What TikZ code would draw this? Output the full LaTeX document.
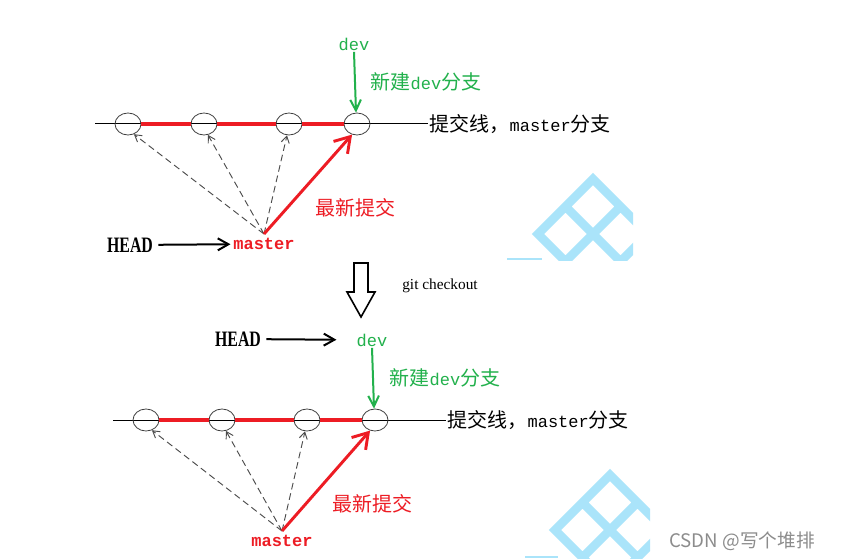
\documentclass[tikz,border=0pt]{standalone}
\usepackage{fontspec}
\setmonofont{Liberation Mono}[Scale=0.85]
\newfontfamily\cjk{Noto Sans CJK SC}
\newfontfamily\headfont{Liberation Serif}
\usetikzlibrary{arrows.meta,positioning,shapes.geometric}
\definecolor{gitred}{HTML}{ED1C24}
\definecolor{gitgreen}{HTML}{22B14C}
\definecolor{wmblue}{HTML}{AAE4FA}

\begin{document}
\begin{tikzpicture}[x=0.75pt, y=-0.75pt,
      commit/.style={ellipse, draw=black!75, line width=0.6pt, minimum width=19.5pt,
                     minimum height=16.5pt, inner sep=0pt},
      tag/.style={font=\fontsize{15pt}{18pt}\selectfont, inner sep=1pt},
      headtag/.style={inner sep=1pt},
      trunk/.style={gitred, line width=2.3pt},
      guess/.style={-{Straight Barb[length=5pt,width=6pt]}, black!70, line width=0.7pt,
                    dash pattern=on 5pt off 3pt},
      latest/.style={-{Straight Barb[length=11pt,width=14pt]}, gitred, line width=2.2pt},
      newbranch/.style={-{Straight Barb[length=8pt,width=8pt]}, gitgreen, line width=1.5pt},
      pointer/.style={-{Straight Barb[length=8pt,width=9pt]}, line width=1.5pt},
      wm/.style={draw=wmblue, line width=6.5pt, line join=miter}
    ]
      \fill[white] (0,0) rectangle (841,559);
      \useasboundingbox (0,0) rectangle (841,559);

      % watermark
      \begin{scope}
        \clip (500,170) rectangle (633,261);
        \draw[wm] (593,179) -- ++(55,55) -- ++(-55,55) -- ++(-55,-55) -- cycle
                  (620.5,206.5) -- ++(-55,55) (565.5,206.5) -- ++(55,55);
      \end{scope}
      \draw[wmblue, line width=1.5pt] (507,259) -- (542,259);
      \begin{scope}
        \clip (500,460) rectangle (650,559);
        \draw[wm] (610,475) -- ++(55,55) -- ++(-55,55) -- ++(-55,-55) -- cycle
                  (637.5,502.5) -- ++(-55,55) (582.5,502.5) -- ++(55,55);
      \end{scope}
      \draw[wmblue, line width=1.5pt] (525,557) -- (558,557);

      % before checkout
      \coordinate (astart) at (95,124);
      \node[tag, anchor=west] (aline) at (428,124) {{\cjk 提交线，}\ttfamily master{\cjk 分支}};
      \draw[line width=0.75pt] (astart) -- (aline.west);
      \foreach \x [count=\i] in {128,204,289,357}
        \node[commit] (a\i) at (\x,124) {};
      \foreach \i/\j in {1/2,2/3,3/4}
        \draw[trunk] (a\i) -- (a\j);

      \node[tag, gitgreen] (adev) at (354,44) {\ttfamily dev};
      \node[tag, gitgreen] (anew) at (426,82) {{\cjk 新建}\ttfamily dev{\cjk 分支}};
      \draw[newbranch] (adev.south) -- (a4.95);

      \node[tag, gitred] (amaster) at (264,244) {\ttfamily\bfseries master};
      \coordinate (atip) at ([yshift=2pt]amaster.north);
      \foreach \i/\ang in {1/-60,2/-70,3/-100}
        \draw[guess] (atip) -- (a\i.\ang);
      \draw[latest] (atip) -- (a4.-115);
      \node[tag, gitred] (alatest) at (355,208) {\cjk 最新提交};

      \node[headtag] (ahead) at (130,245) {\scalebox{0.72}[1]{\fontsize{16.5pt}{18pt}\headfont\bfseries HEAD}};
      \draw[pointer, shorten <=3pt, shorten >=1pt] (ahead) -- (amaster);

      % git checkout
      \draw[line width=1.2pt, line join=miter] (354,263) -- (368,263) -- (368,292) -- (375,292)
        -- (361,317) -- (347,292) -- (354,292) -- cycle;
      \node[font=\fontsize{11.5pt}{13pt}\headfont] (gc) at (440,286) {git checkout};

      % after checkout
      \coordinate (bstart) at (113,420);
      \node[tag, anchor=west] (bline) at (446,420) {{\cjk 提交线，}\ttfamily master{\cjk 分支}};
      \draw[line width=0.75pt] (bstart) -- (bline.west);
      \foreach \x [count=\i] in {146,222,307,375}
        \node[commit] (b\i) at (\x,420) {};
      \foreach \i/\j in {1/2,2/3,3/4}
        \draw[trunk] (b\i) -- (b\j);

      \node[tag, gitgreen] (bdev) at (372,340) {\ttfamily dev};
      \node[tag, gitgreen] (bnew) at (445,378) {{\cjk 新建}\ttfamily dev{\cjk 分支}};
      \draw[newbranch] (bdev.south) -- (b4.95);

      \node[tag, gitred] (bmaster) at (282,541) {\ttfamily\bfseries master};
      \coordinate (btip) at ([yshift=2pt]bmaster.north);
      \foreach \i/\ang in {1/-60,2/-70,3/-100}
        \draw[guess] (btip) -- (b\i.\ang);
      \draw[latest] (btip) -- (b4.-115);
      \node[tag, gitred] (blatest) at (372,504) {\cjk 最新提交};

      \node[headtag] (bhead) at (238,339) {\scalebox{0.72}[1]{\fontsize{16.5pt}{18pt}\headfont\bfseries HEAD}};
      \draw[pointer, shorten <=3pt, shorten >=14pt] (bhead) -- (bdev);

      \node[font=\fontsize{14pt}{16pt}\cjk, text=black!45] (csdn) at (742,541) {CSDN @写个堆排};
    \end{tikzpicture}
\end{document}
